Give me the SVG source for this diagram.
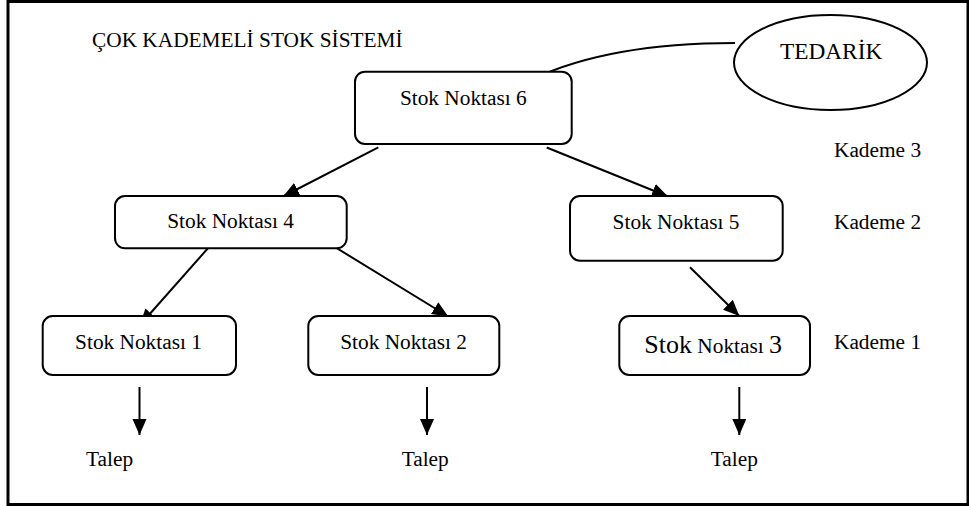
<svg xmlns="http://www.w3.org/2000/svg" width="969" height="506" viewBox="0 0 969 506">
  <defs>
    <marker id="ah" markerUnits="userSpaceOnUse" markerWidth="17" markerHeight="15" refX="16" refY="7" orient="auto">
      <path d="M0,0 L16,7 L0,14 z" fill="#000"/>
    </marker>
    <style>
      text { font-family: "Liberation Serif", "Times New Roman", serif; fill: #000; font-size: 21.33px; }
      .box { fill: #fff; stroke: #000; stroke-width: 2; }
      .c { text-anchor: middle; }
      .edge { stroke: #000; stroke-width: 2; fill: none; }
      .arr { marker-end: url(#ah); }
    </style>
  </defs>
  <rect x="0" y="0" width="969" height="506" fill="#fff"/>
  <path id="frame" d="M8,1.5 H968 V504.5 H8 Z" fill="none" stroke="#000" stroke-width="3"/>
  <text id="title" x="92" y="47">ÇOK KADEMELİ STOK SİSTEMİ</text>

  <g id="connectors">
    <path class="edge" d="M533,79 C590,52 660,43 735,43"/>
    <line class="edge arr" x1="378.3" y1="147.3" x2="283" y2="196.5"/>
    <line class="edge arr" x1="546.7" y1="147.5" x2="668" y2="196.5"/>
    <line class="edge arr" x1="211.7" y1="244" x2="140" y2="325"/>
    <line class="edge arr" x1="330" y1="244" x2="448.3" y2="316.5"/>
    <line class="edge arr" x1="690" y1="267.3" x2="739.3" y2="316"/>
    <line class="edge arr" x1="139.5" y1="387" x2="139.5" y2="435"/>
    <line class="edge arr" x1="427" y1="387" x2="427" y2="435"/>
    <line class="edge arr" x1="739.3" y1="387" x2="739.3" y2="435"/>
  </g>

  <g id="tedarik">
    <ellipse cx="830.5" cy="62.5" rx="96.5" ry="47.5" fill="#fff" stroke="#000" stroke-width="2"/>
    <text x="780" y="59.3" style="font-size:23.3px">TEDARİK</text>
  </g>
  <g id="stok6">
    <rect class="box" x="355" y="71.7" width="216.7" height="72.3" rx="10"/>
    <text class="c" x="463.3" y="105">Stok Noktası 6</text>
  </g>
  <g id="stok4">
    <rect class="box" x="115" y="196" width="231.7" height="52.3" rx="10"/>
    <text class="c" x="230.6" y="228.3">Stok Noktası 4</text>
  </g>
  <g id="stok5">
    <rect class="box" x="570" y="196" width="212.7" height="64.7" rx="10"/>
    <text class="c" x="676" y="229.3">Stok Noktası 5</text>
  </g>
  <g id="stok1">
    <rect class="box" x="42.7" y="316" width="193.3" height="59" rx="10"/>
    <text class="c" x="138.5" y="349.3">Stok Noktası 1</text>
  </g>
  <g id="stok2">
    <rect class="box" x="308.3" y="316" width="191" height="59" rx="10"/>
    <text class="c" x="403.6" y="349.3">Stok Noktası 2</text>
  </g>
  <g id="stok3">
    <rect class="box" x="619.3" y="316" width="190.7" height="59" rx="10"/>
    <text x="644.3" y="352.7"><tspan style="font-size:26px">Stok</tspan> Noktası <tspan style="font-size:26px">3</tspan></text>
  </g>

  <g id="labels">
    <text x="834" y="156.7">Kademe 3</text>
    <text x="834" y="229.3">Kademe 2</text>
    <text x="834" y="349.3">Kademe 1</text>
    <text x="86" y="466">Talep</text>
    <text x="401.7" y="466">Talep</text>
    <text x="710.8" y="466">Talep</text>
  </g>
</svg>
